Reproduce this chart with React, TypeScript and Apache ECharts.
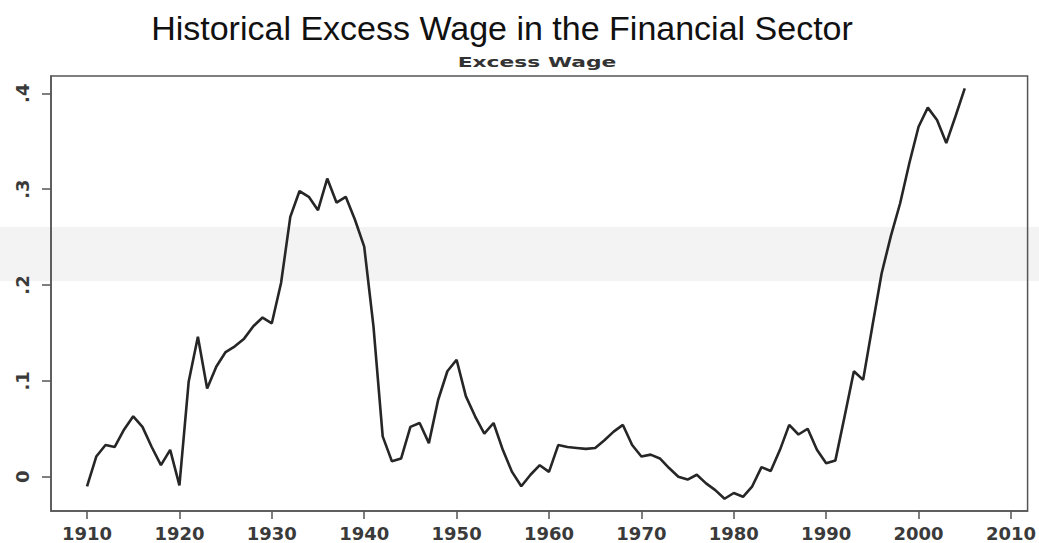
import React, { useEffect, useRef } from "react";
import * as echarts from "echarts";

const titleText = "Historical Excess Wage in the Financial Sector";
const subtitleText = "Excess Wage";

const years = [
  1910, 1911, 1912, 1913, 1914, 1915, 1916, 1917, 1918, 1919,
  1920, 1921, 1922, 1923, 1924, 1925, 1926, 1927, 1928, 1929,
  1930, 1931, 1932, 1933, 1934, 1935, 1936, 1937, 1938, 1939,
  1940, 1941, 1942, 1943, 1944, 1945, 1946, 1947, 1948, 1949,
  1950, 1951, 1952, 1953, 1954, 1955, 1956, 1957, 1958, 1959,
  1960, 1961, 1962, 1963, 1964, 1965, 1966, 1967, 1968, 1969,
  1970, 1971, 1972, 1973, 1974, 1975, 1976, 1977, 1978, 1979,
  1980, 1981, 1982, 1983, 1984, 1985, 1986, 1987, 1988, 1989,
  1990, 1991, 1992, 1993, 1994, 1995, 1996, 1997, 1998, 1999,
  2000, 2001, 2002, 2003, 2004, 2005,
];

const excessWage = [
  -0.010, 0.021, 0.033, 0.031, 0.049, 0.063, 0.052, 0.031, 0.012, 0.028,
  -0.009, 0.099, 0.146, 0.092, 0.115, 0.130, 0.136, 0.144, 0.157, 0.166,
  0.160, 0.202, 0.271, 0.298, 0.292, 0.278, 0.311, 0.286, 0.292, 0.268,
  0.240, 0.157, 0.042, 0.016, 0.019, 0.052, 0.056, 0.035, 0.080, 0.110,
  0.122, 0.084, 0.063, 0.045, 0.056, 0.028, 0.005, -0.010, 0.002, 0.012,
  0.005, 0.033, 0.031, 0.030, 0.029, 0.030, 0.038, 0.047, 0.054, 0.033,
  0.021, 0.023, 0.019, 0.009, 0.000, -0.003, 0.002, -0.007, -0.014, -0.023,
  -0.017, -0.021, -0.010, 0.010, 0.006, 0.028, 0.054, 0.044, 0.050, 0.028,
  0.014, 0.017, 0.063, 0.110, 0.101, 0.157, 0.212, 0.251, 0.285, 0.327,
  0.365, 0.385, 0.372, 0.348, 0.376, 0.405,
];

const xTickValues = [1910, 1920, 1930, 1940, 1950, 1960, 1970, 1980, 1990, 2000, 2010];
const yTickValues = [0, 0.1, 0.2, 0.3, 0.4];
const yTickLabels = ["0", ".1", ".2", ".3", ".4"];

export default function App() {
  const ref = useRef<HTMLDivElement>(null);

  useEffect(() => {
    document.body.style.margin = "0";
    if (!ref.current) return;
    const chart = echarts.init(ref.current, undefined, { renderer: "svg" });
    const seriesData = years.map((y, i) => [y, excessWage[i]]);
    const axisFont = {
      fontFamily: "DejaVu Sans",
      fontSize: 18,
      fontWeight: "bold" as const,
      color: "#3a3a3a",
    };
    const axisLineStyle = { color: "#555555", width: 1.5 };
    chart.setOption({
      animation: false,
      backgroundColor: "#ffffff",
      grid: {
        left: 51,
        right: 11,
        top: 76,
        bottom: 32,
        show: true,
        borderColor: "#555555",
        borderWidth: 1.5,
        backgroundColor: "transparent",
      },
      graphic: [
        {
          type: "rect",
          z: -10,
          silent: true,
          shape: { x: 0, y: 227, width: 1039, height: 54 },
          style: { fill: "#f3f3f3" },
        },
        {
          type: "text",
          x: 502,
          y: 28,
          style: {
            text: titleText,
            fontFamily: "Liberation Sans",
            fontSize: 34,
            fill: "#111111",
            align: "center",
            verticalAlign: "middle",
          },
        },
        {
          type: "text",
          x: 537,
          y: 62,
          scaleX: 1.56,
          style: {
            text: subtitleText,
            fontFamily: "DejaVu Sans",
            fontSize: 14,
            fontWeight: "bold",
            fill: "#333333",
            align: "center",
            verticalAlign: "middle",
          },
        },
      ],
      xAxis: {
        type: "value",
        min: 1906.1,
        max: 2011.8,
        axisLine: { show: true, onZero: false, lineStyle: axisLineStyle },
        splitLine: { show: false },
        axisTick: {
          show: true,
          customValues: xTickValues,
          length: 8,
          lineStyle: axisLineStyle,
        },
        axisLabel: {
          customValues: xTickValues,
          margin: 13,
          ...axisFont,
          formatter: (v: number) => String(v),
        },
      },
      yAxis: {
        type: "value",
        min: -0.0358,
        max: 0.418,
        axisLine: { show: true, onZero: false, lineStyle: axisLineStyle },
        splitLine: { show: false },
        axisTick: {
          show: true,
          customValues: yTickValues,
          length: 9,
          lineStyle: axisLineStyle,
        },
        axisLabel: {
          customValues: yTickValues,
          rotate: 90,
          margin: 20,
          ...axisFont,
          formatter: (v: number) => {
            const idx = yTickValues.findIndex((t) => Math.abs(t - v) < 1e-6);
            return idx >= 0 ? yTickLabels[idx] : "";
          },
        },
      },
      series: [
        {
          type: "line",
          data: seriesData,
          showSymbol: false,
          symbol: "none",
          lineStyle: { color: "#262626", width: 2.6 },
          z: 5,
        },
      ],
    });
    return () => chart.dispose();
  }, []);

  return (
    <div
      ref={ref}
      style={{ position: "fixed", left: 0, top: 0, width: 1039, height: 543 }}
    />
  );
}
